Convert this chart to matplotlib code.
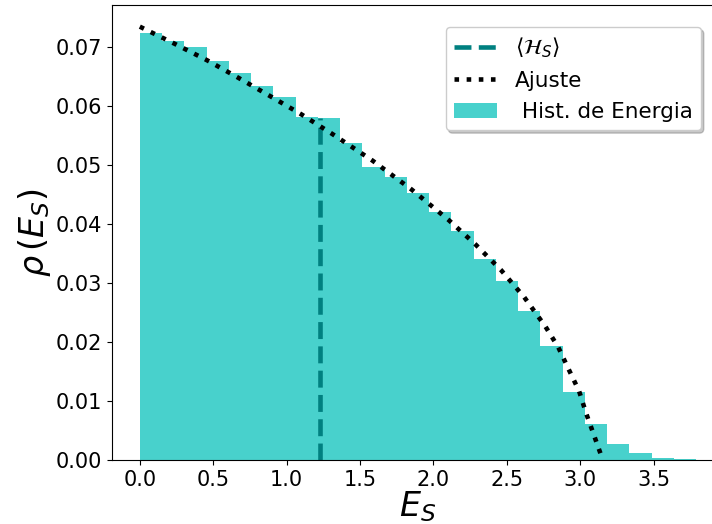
import numpy as np
import matplotlib
matplotlib.use('Agg')
import matplotlib.pyplot as plt

# histogram of the system energy (25 bins from 0 to e_max)
e_max = 3.79
n_bins = 25
hist_vals = [0.0725, 0.0710, 0.0700, 0.0676, 0.0656, 0.0634, 0.0616, 0.0581,
             0.0580, 0.0537, 0.0497, 0.0480, 0.0453, 0.0420, 0.0388, 0.0341,
             0.0303, 0.0253, 0.0194, 0.0116, 0.0061, 0.0028, 0.0012, 0.0003,
             0.0002]

# fitted density
fit_E = [0.0, 0.237, 0.458, 0.673, 0.889, 1.102, 1.311, 1.584, 1.850, 2.104,
         2.285, 2.461, 2.619, 2.764, 2.851, 2.921, 2.992, 3.042, 3.098, 3.151]
fit_rho = [0.0735, 0.0706, 0.0678, 0.0648, 0.0617, 0.0586, 0.0553, 0.0508,
           0.0459, 0.0407, 0.0366, 0.0322, 0.0276, 0.0226, 0.0191, 0.0154,
           0.0117, 0.0078, 0.0039, 0.0002]

# mean energy <H_S>
mean_E = 1.23
mean_h = 0.0580

edges = np.linspace(0, e_max, n_bins + 1)
width = edges[1] - edges[0]

fig = plt.figure(figsize=(7.12, 5.24), dpi=100)
ax = fig.add_axes([0.1573, 0.1221, 0.8596, 0.8684])

ax.plot([mean_E, mean_E], [0, mean_h], color='teal', linestyle='--', lw=3.3,
        label=r'$\langle \mathcal{H}_S \rangle$')
ax.plot(fit_E, fit_rho, color='black', linestyle=':', lw=3.3, label='Ajuste')
ax.bar(edges[:-1], hist_vals, width=width, align='edge',
       color='mediumturquoise', label=' Hist. de Energia')

ax.set_xticks([0.0, 0.5, 1.0, 1.5, 2.0, 2.5, 3.0, 3.5])
ax.tick_params(labelsize=15)
ax.set_xlabel(r'$E_S$', fontsize=24, labelpad=0)
ax.set_ylabel(r'$\rho\,(E_S)$', fontsize=24, labelpad=2)

ax.legend(fontsize=15.5, loc='upper right', bbox_to_anchor=(701 / 712, 1 - 27 / 524),
          bbox_transform=fig.transFigure, borderaxespad=0,
          shadow={'alpha': 0.3})

plt.savefig('out.png', dpi=100)
